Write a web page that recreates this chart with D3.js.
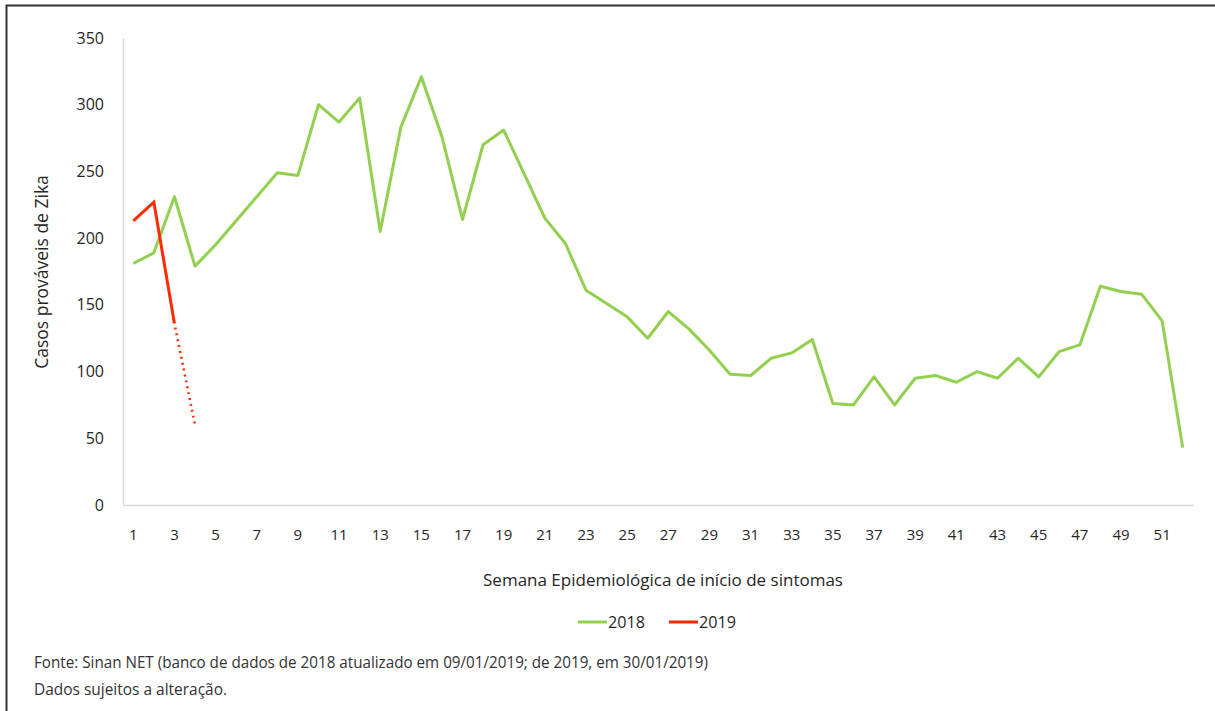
<!DOCTYPE html>
<html>
<head>
<meta charset="utf-8">
<script src="https://cdn.jsdelivr.net/npm/d3@7"></script>
<style>
  body { margin: 0; background: #fff; }
  svg { display: block; }
  .tick text { fill: #262626; }
</style>
</head>
<body>
<svg width="1215" height="711"></svg>
<script>
var svg = d3.select("svg"),
    width = +svg.attr("width"),
    height = +svg.attr("height");

// weeks 1..52
let weeks = d3.range(1, 53);
let cases2018 = [181, 189, 231, 179, 195, 213, 231, 249, 247, 300, 287, 305, 205, 283, 321,
  276, 214, 270, 281, 248, 215, 196, 161, 151, 141, 125, 145, 132, 116, 98,
  97, 110, 114, 124, 76, 75, 96, 75, 95, 97, 92, 100, 95, 110, 96,
  115, 120, 164, 160, 158, 138, 43];
let cases2019 = [213, 227, 136];
let cases2019Partial = [136, 60]; // weeks 3-4, incomplete
let yTicks = [0, 50, 100, 150, 200, 250, 300, 350];
let seriesNames = ["2018", "2019"];
let colors = ["#92d050", "#ff2a00"];

let condensed = "'Open Sans', sans-serif";

// outer frame
svg.append("path")
  .attr("d", "M6.5,711 L6.5,5.5 L1215,5.5")
  .attr("fill", "none")
  .attr("stroke", "#333")
  .attr("stroke-width", 2);

let x = d3.scaleBand().domain(weeks).range([123, 1193]);
let y = d3.scaleLinear().domain([0, 350]).range([505, 38]);
let cx = d => x(d) + x.bandwidth() / 2;

let g = svg.append("g");

// y axis
let yAxis = g.append("g")
  .attr("transform", translate(123, 0))
  .call(d3.axisLeft(y).tickValues(yTicks).tickSize(0).tickPadding(19));
yAxis.select(".domain").attr("stroke", "#d9d9d9").attr("stroke-width", 1.5);
yAxis.selectAll("text").style("font-family", "'Open Sans', sans-serif").style("font-size", "16px");

// x axis
let xAxis = g.append("g")
  .attr("transform", translate(0, 505))
  .call(d3.axisBottom(x).tickValues(weeks.filter(w => w % 2 === 1)).tickSize(0).tickPadding(24));
xAxis.select(".domain").attr("stroke", "#d9d9d9").attr("stroke-width", 1.5);
xAxis.selectAll("text").style("font-family", "'Open Sans', sans-serif").style("font-size", "15px");

// axis titles
g.append("text")
  .attr("x", 663).attr("y", 586)
  .attr("text-anchor", "middle")
  .style("font-family", "'Open Sans', sans-serif")
  .style("font-size", "17px")
  .attr("fill", "#262626")
  .text("Semana Epidemiológica de início de sintomas");

g.append("text")
  .attr("transform", "translate(48,272) rotate(-90)")
  .attr("text-anchor", "middle")
  .style("font-family", "'Open Sans', sans-serif")
  .style("font-size", "17.5px")
  .attr("fill", "#262626")
  .text("Casos prováveis de Zika");

let line = d3.line().x(d => cx(d[0])).y(d => y(d[1]));

g.append("path")
  .datum(weeks.map((w, i) => [w, cases2018[i]]))
  .attr("d", line)
  .attr("fill", "none")
  .attr("stroke", colors[0])
  .attr("stroke-width", 3)
  .attr("stroke-linejoin", "round");

g.append("path")
  .datum(cases2019.map((v, i) => [weeks[i], v]))
  .attr("d", line)
  .attr("fill", "none")
  .attr("stroke", colors[1])
  .attr("stroke-width", 3);

g.append("path")
  .datum(cases2019Partial.map((v, i) => [weeks[i + 2], v]))
  .attr("d", line)
  .attr("fill", "none")
  .attr("stroke", colors[1])
  .attr("stroke-width", 2.5)
  .attr("stroke-dasharray", "2,4")
  .attr("stroke-dashoffset", -4);

// legend
let legendX = [578, 669];
seriesNames.forEach((name, i) => {
  let lg = g.append("g").attr("transform", translate(legendX[i], 622));
  lg.append("line")
    .attr("x1", 0).attr("x2", 29)
    .attr("stroke", colors[i]).attr("stroke-width", 3);
  lg.append("text")
    .attr("x", 30).attr("dy", "0.35em")
    .style("font-family", condensed)
    .style("font-size", "17px")
    .attr("textLength", 37)
    .attr("lengthAdjust", "spacingAndGlyphs")
    .attr("fill", "#262626")
    .text(name);
});

// source notes (condensed face in the original, so squeeze to its width)
let notes = ["Fonte: Sinan NET (banco de dados de 2018 atualizado em 09/01/2019; de 2019, em 30/01/2019)",
  "Dados sujeitos a alteração."];
let noteWidths = [674, 193];
notes.forEach((t, i) => {
  g.append("text")
    .attr("x", 34).attr("y", 668 + i * 27)
    .style("font-family", condensed)
    .style("font-size", "16.5px")
    .attr("textLength", noteWidths[i])
    .attr("lengthAdjust", "spacingAndGlyphs")
    .attr("fill", "#333")
    .text(t);
});

function translate(x, y) {
  return `translate(${x},${y})`;
}
</script>
</body>
</html>
